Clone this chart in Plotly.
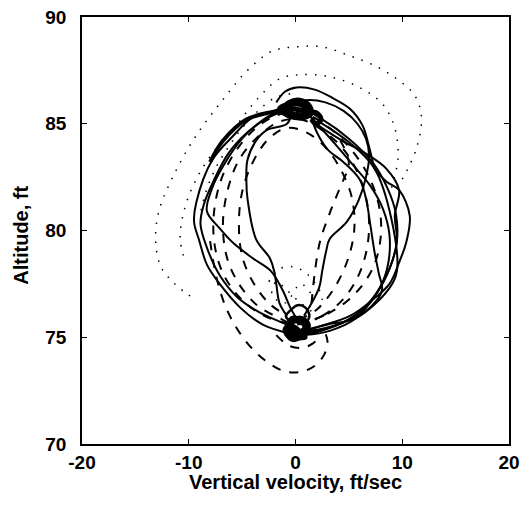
import plotly.graph_objects as go

# Phase plane: vertical velocity (ft/sec) vs altitude (ft)

# solid runs
s1_v = [-1.8, -1.0, 0.1, 1.8, 3.5, 5.1, 6.3, 6.8, 7.2, 7.4, 8.5, 9.7, 10.7, 10.4, 9.7, 8.8, 7.1, 5.1, 2.2, 0.3]
s1_h = [86.0, 86.5, 86.7, 86.6, 86.2, 85.7, 84.9, 84.1, 83.3, 82.9, 82.3, 81.9, 80.7, 79.5, 78.5, 77.5, 76.7, 76.0, 75.5, 75.2]

s2_v = [0.2, 3.0, 5.5, 7.5, 8.8, 9.5, 9.4, 8.6, 7.2, 5.0, 2.5, 0.5, -1.8, -4.0, -5.9, -7.8, -9.3, -9.5, -9.0, -8.3, -7.1, -5.2, -3.1, -0.8, 0.2]
s2_h = [75.1, 75.4, 76.0, 77.0, 78.2, 79.5, 80.8, 82.0, 83.2, 84.3, 85.2, 85.7, 85.6, 85.3, 84.4, 83.3, 81.3, 80.4, 79.5, 78.4, 77.5, 76.4, 75.6, 75.2, 75.1]

s3_v = [0.8, 2.2, 2.5, 2.9, 3.2, 4.8, 5.9, 6.6, 6.9, 6.6, 5.8, 4.5, 2.8, 1.0, -0.3]
s3_h = [76.0, 77.3, 78.1, 79.1, 79.6, 80.4, 81.4, 82.5, 83.5, 84.3, 85.0, 85.6, 86.0, 86.1, 85.9]

s4_v = [1.3, 2.2, 3.8, 5.5, 7.0, 8.2, 8.8, 8.7, 8.0, 6.6, 4.5, 2.0, 0.5]
s4_h = [85.4, 84.9, 84.0, 83.0, 82.1, 81.0, 79.8, 78.5, 77.4, 76.4, 75.7, 75.3, 75.2]

s5_v = [1.5, 2.0, 3.0, 4.5, 6.0, 6.6, 7.0, 7.4, 7.8, 8.1, 7.0, 5.0, 2.5, 0.8]
s5_h = [85.3, 84.6, 83.8, 83.2, 82.4, 81.5, 80.3, 79.0, 78.0, 77.2, 76.4, 75.8, 75.4, 75.3]

s6_v = [1.4, 2.8, 4.4, 6.6, 8.5, 9.7, 9.3, 9.5, 8.8, 7.5, 5.7, 3.2, 0.8]
s6_h = [85.2, 84.7, 84.2, 83.6, 82.9, 81.9, 80.7, 79.5, 78.2, 77.0, 75.9, 75.3, 75.1]

s7_v = [-0.5, -2.5, -4.5, -6.3, -7.6, -8.6, -8.9, -8.3, -7.1, -5.5, -3.5, -1.8, -0.8]
s7_h = [85.7, 85.3, 84.6, 83.6, 82.4, 81.2, 80.3, 79.2, 77.9, 76.9, 76.2, 75.8, 75.6]

s8_v = [-0.8, -3.0, -5.0, -6.8, -7.8, -8.3, -7.1, -5.8, -4.0, -2.3, -1.2, -0.5, 0.2]
s8_h = [85.8, 85.2, 84.3, 83.0, 82.0, 80.9, 80.1, 79.4, 78.7, 78.1, 77.2, 76.4, 75.8]

s9_v = [-0.3, -0.8, -2.7, -3.7, -4.5, -4.6, -4.5, -3.7, -2.4, -2.0, -1.8, -1.5, -0.8]
s9_h = [85.6, 85.0, 84.7, 84.2, 83.3, 82.3, 81.5, 79.6, 78.7, 78.1, 77.5, 76.6, 76.0]

s10_v = [0.5, 3.0, 5.7, 8.8, 9.5, 9.0, 7.4, 5.1, 2.2]
s10_h = [75.3, 75.6, 75.9, 77.3, 78.1, 80.5, 82.9, 84.1, 85.1]

band_v = [-8.0, -6.8, -4.6, -1.8, -0.5]
band_h = [83.2, 84.2, 85.2, 85.6, 85.8]

top_blob_v = [-1.4, -0.6, 0.4, 1.2, 1.5, 0.9, -0.2, -1.1, -1.5, -0.7, 0.5, 1.3, 0.6, -0.5, -1.2, -0.2, 0.8, 2.0, 2.4, 1.9, 1.5]
top_blob_h = [85.6, 86.0, 86.1, 85.9, 85.5, 85.3, 85.3, 85.5, 85.7, 85.9, 85.9, 85.6, 85.4, 85.5, 85.8, 85.7, 85.6, 85.5, 85.2, 85.0, 85.2]

bot_blob_v = [-0.9, -0.3, 0.5, 1.0, 0.6, -0.2, -0.7, -0.4, 0.3, 0.9, 0.2, -0.6, -1.0, -0.1, 0.8, 1.2, 0.4, -0.4, 0.1, 0.9, -0.6]
bot_blob_h = [75.2, 74.9, 75.0, 75.3, 75.7, 75.9, 75.6, 75.3, 75.2, 75.5, 75.8, 75.6, 75.3, 75.0, 75.1, 75.6, 75.9, 75.6, 75.4, 75.0, 75.0]

bot_ring_v = [-0.6, 0.2, 0.9, 1.3, 0.9, 0.1, -0.6, -0.9, -0.6]
bot_ring_h = [76.2, 76.5, 76.4, 76.0, 75.7, 75.7, 75.8, 76.0, 76.2]

# dashed runs
d1_v = [0.0, 2.5, 4.5, 6.0, 6.8, 6.8, 6.0, 4.5, 2.5, 0.5, -1.5, -3.5, -5.3, -6.4, -6.8, -6.4, -5.3, -3.6, -1.5, 0.0]
d1_h = [75.6, 76.0, 76.8, 78.0, 79.5, 81.0, 82.5, 83.8, 84.7, 85.2, 85.1, 84.4, 83.3, 81.8, 80.2, 78.7, 77.5, 76.5, 75.9, 75.6]

d2_v = [0.3, 2.0, 3.5, 4.8, 5.5, 5.3, 4.3, 2.8, 1.0, -0.8, -2.5, -4.0, -5.0, -5.3, -5.0, -4.0, -2.5, -0.8]
d2_h = [75.8, 76.3, 77.2, 78.5, 80.0, 81.5, 82.8, 83.9, 84.6, 84.8, 84.3, 83.2, 81.8, 80.3, 78.8, 77.6, 76.6, 76.0]

d3_v = [0.5, 3.0, 5.5, 7.3, 8.0, 7.8, 6.8, 5.2, 3.2, 1.2, -1.0, -3.2, -5.2, -6.8, -7.6, -7.6, -6.8, -5.3, -3.3, -1.2, 0.5]
d3_h = [75.7, 76.1, 77.0, 78.3, 79.8, 81.2, 82.6, 83.8, 84.8, 85.4, 85.5, 85.0, 84.0, 82.6, 81.0, 79.4, 78.0, 76.9, 76.1, 75.7, 75.7]

d4_v = [1.5, 1.8, 2.3, 3.2, 4.0, 4.6, 5.0, 4.8, 4.2]
d4_h = [76.6, 78.0, 79.5, 80.8, 81.8, 82.5, 83.0, 83.6, 84.2]

d_low_v = [-8.0, -7.4, -6.6, -5.6, -4.3, -2.8, -1.0, 0.7, 1.9, 2.7, 3.0, 2.7]
d_low_h = [79.5, 77.8, 76.5, 75.5, 74.6, 73.9, 73.4, 73.4, 73.7, 74.2, 74.8, 75.3]

d_small_v = [-1.8, -0.6, 0.6, 1.6, 2.2]
d_small_h = [75.1, 74.6, 74.5, 74.7, 75.0]

# dotted runs
p1_v = [10.0, 11.3, 11.8, 11.2, 9.5, 7.5, 5.0, 2.5, 0.0, -2.2, -4.5, -7.0, -9.5, -11.5, -12.8, -13.1, -12.6, -11.3, -9.5]
p1_h = [82.4, 83.8, 85.3, 86.3, 87.1, 87.7, 88.2, 88.6, 88.6, 88.4, 87.5, 86.0, 84.3, 82.5, 80.9, 79.5, 78.3, 77.5, 76.8]

p2_v = [9.0, 9.6, 9.3, 8.2, 6.0, 3.2, 0.5, -1.5, -3.5, -5.9, -7.8, -9.3, -10.4, -10.8, -10.3]
p2_h = [82.0, 83.4, 84.8, 85.9, 86.7, 87.2, 87.3, 87.1, 86.2, 84.7, 83.6, 82.4, 81.0, 79.6, 78.5]

p3_v = [-0.5, -2.0, -3.5, -5.0, -6.3, -7.5, -8.4, -9.0]
p3_h = [86.4, 86.2, 85.6, 84.8, 83.9, 82.9, 81.8, 80.6]

p4_v = [-2.5, -1.5, -0.2, 1.0, 2.0, 2.5, 1.8, 0.5, -0.8, -1.8, -2.2, -1.0, 0.5, 1.5]
p4_h = [77.6, 78.2, 78.3, 78.0, 77.4, 76.8, 76.2, 76.6, 77.2, 77.6, 77.0, 76.6, 77.5, 77.0]

solid_runs = [(s1_v, s1_h), (s2_v, s2_h), (s3_v, s3_h), (s4_v, s4_h), (s5_v, s5_h),
              (s6_v, s6_h), (s7_v, s7_h), (s8_v, s8_h), (s9_v, s9_h), (s10_v, s10_h)]
dashed_runs = [(d1_v, d1_h), (d2_v, d2_h), (d3_v, d3_h), (d4_v, d4_h), (d_low_v, d_low_h), (d_small_v, d_small_h)]
dotted_runs = [(p1_v, p1_h), (p2_v, p2_h), (p3_v, p3_h), (p4_v, p4_h)]

fig = go.Figure()

for v, h in dotted_runs:
    fig.add_trace(go.Scatter(x=v, y=h, mode="lines", line_shape="spline",
                             line=dict(color="black", width=1.5, dash="1.5px,8px")))

for v, h in dashed_runs:
    fig.add_trace(go.Scatter(x=v, y=h, mode="lines", line_shape="spline",
                             line=dict(color="black", width=2, dash="9px,9px")))

for v, h in solid_runs:
    fig.add_trace(go.Scatter(x=v, y=h, mode="lines", line_shape="spline",
                             line=dict(color="black", width=2)))

# dense knots at the top and bottom of the cycle
fig.add_trace(go.Scatter(x=band_v, y=band_h, mode="lines", line_shape="spline",
                         line=dict(color="black", width=4)))
fig.add_trace(go.Scatter(x=top_blob_v, y=top_blob_h, mode="lines", line_shape="spline",
                         line=dict(color="black", width=5)))
fig.add_trace(go.Scatter(x=bot_blob_v, y=bot_blob_h, mode="lines", line_shape="spline",
                         line=dict(color="black", width=5)))
fig.add_trace(go.Scatter(x=bot_ring_v, y=bot_ring_h, mode="lines", line_shape="spline",
                         line=dict(color="black", width=2.5)))

font_family = "Liberation Sans, Arial, sans-serif"
tick_font = dict(family=font_family, size=19, color="black")
title_font = dict(family=font_family, size=20, color="black")

# the page body adds an 8px offset, so the figure is sized a bit smaller
fig.update_layout(
    width=521, height=499,
    margin=dict(l=74, r=20, t=9, b=63),
    plot_bgcolor="white", paper_bgcolor="white",
    showlegend=False,
    xaxis=dict(range=[-20, 20], tickvals=[-20, -10, 0, 10, 20],
               ticktext=["<b>-20</b>", "<b>-10</b>", "<b>0</b>", "<b>10</b>", "<b>20</b>"],
               ticks="inside", ticklen=5, tickcolor="black", mirror="ticks",
               showline=True, linecolor="black", linewidth=1.5, automargin=False,
               showgrid=False, zeroline=False, tickfont=tick_font, ticklabelstandoff=0,
               ticklabeloverflow="allow"),
    yaxis=dict(range=[70, 90], tickvals=[70, 75, 80, 85, 90],
               ticktext=["<b>70</b>", "<b>75</b>", "<b>80</b>", "<b>85</b>", "<b>90</b>"],
               ticks="inside", ticklen=5, tickcolor="black", mirror="ticks",
               showline=True, linecolor="black", linewidth=1.5, automargin=False,
               showgrid=False, zeroline=False, tickfont=tick_font, ticklabelstandoff=10,
               ticklabeloverflow="allow"),
    annotations=[
        dict(text="<b>Vertical velocity, ft/sec</b>", font=title_font, showarrow=False,
             xref="paper", yref="paper", x=0.5, y=-0.09, xanchor="center", yanchor="middle"),
        dict(text="<b>Altitude, ft</b>", font=title_font, showarrow=False, textangle=-90,
             xref="paper", yref="paper", x=-0.143, y=0.49, xanchor="center", yanchor="middle"),
    ],
)

fig.write_html("out.html")
